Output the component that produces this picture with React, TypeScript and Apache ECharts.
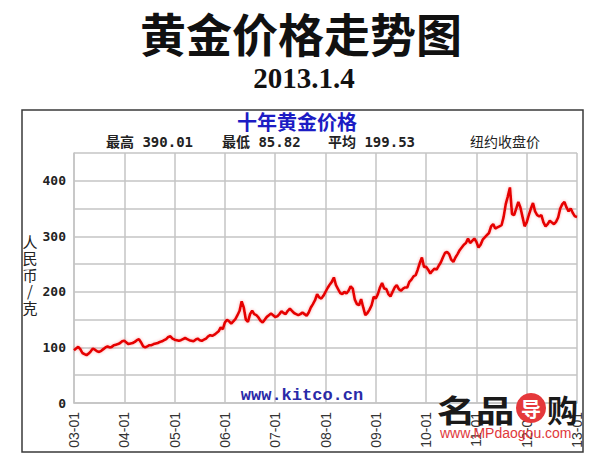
import React, { useEffect, useRef } from "react";
import * as echarts from "echarts";

// Tick labels on the time axis (year-month)
const tickLabels = ["03-01", "04-01", "05-01", "06-01", "07-01", "08-01", "09-01", "10-01", "11-01", "12-01", "13-01"];

// Semi-monthly gold prices, RMB per gram
const prices2003 = [95, 98, 101, 97, 90, 88, 86, 89, 93, 98, 96, 93, 92, 94, 97, 100, 102, 100, 101, 104, 105, 106, 108, 111];
const prices2004 = [112, 109, 106, 107, 108, 110, 113, 115, 109, 102, 100, 102, 104, 104, 106, 107, 108, 110, 111, 113, 115, 119, 120, 116];
const prices2005 = [114, 113, 112, 113, 115, 117, 115, 113, 112, 111, 114, 116, 113, 112, 114, 116, 120, 122, 121, 123, 126, 129, 136, 133];
const prices2006 = [145, 150, 147, 143, 147, 151, 158, 166, 183, 172, 150, 146, 160, 166, 160, 158, 154, 148, 145, 150, 155, 158, 161, 158];
const prices2007 = [155, 156, 160, 165, 162, 160, 166, 170, 166, 162, 160, 158, 160, 163, 160, 157, 163, 172, 178, 185, 196, 190, 188, 193];
const prices2008 = [200, 207, 213, 218, 226, 212, 205, 198, 196, 200, 197, 202, 210, 206, 186, 178, 176, 187, 172, 158, 162, 168, 176, 191];
const prices2009 = [188, 196, 208, 216, 206, 205, 196, 192, 200, 208, 212, 205, 202, 206, 208, 208, 218, 222, 228, 230, 240, 252, 262, 245];
const prices2010 = [245, 240, 233, 238, 242, 240, 247, 253, 262, 270, 272, 268, 258, 254, 262, 268, 275, 280, 285, 288, 296, 288, 292, 296];
const prices2011 = [290, 280, 285, 294, 298, 302, 306, 318, 322, 314, 316, 318, 320, 335, 358, 372, 388, 340, 338, 350, 362, 352, 335, 318];
const prices2012 = [325, 338, 350, 360, 345, 338, 336, 338, 325, 318, 322, 328, 325, 322, 326, 334, 350, 358, 362, 352, 345, 350, 342, 336];
const prices2013 = [335];

const yearlyPrices = [prices2003, prices2004, prices2005, prices2006, prices2007, prices2008, prices2009, prices2010, prices2011, prices2012];

// Stats shown in the header
const statHigh = "390.01";
const statLow = "85.82";
const statAvg = "199.53";

// Vertical y-axis name characters
const yNameChars = ["人", "民", "币", "/", "克"];

export default function App() {
  const ref = useRef<HTMLDivElement>(null);

  useEffect(() => {
    if (!ref.current) return;
    const chart = echarts.init(ref.current, null, { renderer: "svg" });

    const categories: string[] = [];
    const values: number[] = [];
    yearlyPrices.forEach((arr, yi) => {
      arr.forEach((v, hi) => {
        const month = Math.floor(hi / 2) + 1;
        categories.push(`${tickLabels[yi].slice(0, 2)}-${String(month).padStart(2, "0")}-${hi % 2 === 0 ? "01" : "15"}`);
        values.push(v);
      });
    });
    categories.push("13-01-04");
    values.push(...prices2013);

    const gridColor = "#c4c4c4";

    const yNameTexts = yNameChars.map((ch, i) => ({
      type: "text",
      x: 30,
      y: 241 + i * 16.6,
      style: {
        text: ch,
        font: "15px 'Noto Sans CJK SC'",
        lineHeight: 15,
        fill: "#222",
        align: "center",
        verticalAlign: "middle",
      },
    }));

    chart.setOption({
      animation: false,
      backgroundColor: "#ffffff",
      grid: { left: 74, right: 23, top: 153, bottom: 59, containLabel: false },
      xAxis: {
        type: "category",
        boundaryGap: false,
        data: categories,
        axisLine: { lineStyle: { color: gridColor, width: 1.5 } },
        axisTick: { show: false },
        axisLabel: {
          interval: 23,
          rotate: 90,
          margin: 9,
          fontSize: 14,
          fontFamily: "Liberation Sans",
          color: "#333",
          formatter: (_v: string, i: number) => tickLabels[Math.round(i / 24)] ?? "",
        },
        splitLine: { show: true, interval: 23, lineStyle: { color: gridColor, width: 1.5 } },
      },
      yAxis: {
        type: "value",
        min: 0,
        max: 450,
        interval: 50,
        axisLine: { show: true, lineStyle: { color: gridColor, width: 1.5 } },
        axisTick: { show: false },
        axisLabel: {
          margin: 8,
          fontSize: 13,
          fontWeight: "bold",
          fontFamily: "DejaVu Sans Mono",
          color: "#222",
          formatter: (v: number) => (v % 100 === 0 ? String(v) : ""),
        },
        splitLine: { show: true, lineStyle: { color: gridColor, width: 1.5 } },
      },
      series: [
        {
          type: "line",
          data: values,
          symbol: "none",
          smooth: false,
          lineStyle: {
            color: "#e60000",
            width: 2.6,
            shadowColor: "rgba(255,60,60,0.45)",
            shadowBlur: 3,
          },
        },
      ],
      graphic: [
        {
          type: "rect",
          shape: { x: 22, y: 110, width: 561, height: 342 },
          style: { fill: "none", stroke: "#3a3a3a", lineWidth: 1.5 },
          z: 10,
        },
        {
          type: "text",
          x: 301,
          y: 32,
          style: {
            text: "黄金价格走势图",
            font: "bold 46px 'Noto Sans CJK SC'",
            fill: "#111",
            align: "center",
            verticalAlign: "middle",
          },
        },
        {
          type: "text",
          x: 304,
          y: 78,
          style: {
            text: "2013.1.4",
            font: "bold 29px 'Liberation Serif'",
            fill: "#111",
            align: "center",
            verticalAlign: "middle",
          },
        },
        {
          type: "text",
          x: 297,
          y: 121,
          style: {
            text: "十年黄金价格",
            font: "bold 20px 'Noto Sans CJK SC'",
            fill: "#1c1cc4",
            align: "center",
            verticalAlign: "middle",
          },
        },
        {
          type: "text",
          x: 106,
          y: 142,
          style: {
            text: "最高 " + statHigh,
            font: "bold 14px 'DejaVu Sans Mono', 'Noto Sans CJK SC'",
            fill: "#222",
            align: "left",
            verticalAlign: "middle",
          },
        },
        {
          type: "text",
          x: 222,
          y: 142,
          style: {
            text: "最低 " + statLow,
            font: "bold 14px 'DejaVu Sans Mono', 'Noto Sans CJK SC'",
            fill: "#222",
            align: "left",
            verticalAlign: "middle",
          },
        },
        {
          type: "text",
          x: 328,
          y: 142,
          style: {
            text: "平均 " + statAvg,
            font: "bold 14px 'DejaVu Sans Mono', 'Noto Sans CJK SC'",
            fill: "#222",
            align: "left",
            verticalAlign: "middle",
          },
        },
        {
          type: "text",
          x: 470,
          y: 141,
          style: {
            text: "纽约收盘价",
            font: "14px 'Noto Sans CJK SC'",
            fill: "#222",
            align: "left",
            verticalAlign: "middle",
          },
        },
        ...yNameTexts,
        {
          type: "text",
          x: 302,
          y: 395,
          style: {
            text: "www.kitco.cn",
            font: "bold 17px 'Liberation Mono'",
            fill: "#2a2aa8",
            align: "center",
            verticalAlign: "middle",
          },
          z: 20,
        },
        {
          type: "text",
          x: 437,
          y: 408,
          scaleX: 1.25,
          style: {
            text: "名品",
            font: "bold 31px 'Noto Sans CJK SC'",
            fill: "#1a1a1a",
            align: "left",
            verticalAlign: "middle",
          },
          z: 20,
        },
        {
          type: "circle",
          shape: { cx: 531, cy: 408, r: 15 },
          style: { fill: "#e5383b" },
          z: 20,
        },
        {
          type: "text",
          x: 531,
          y: 408,
          style: {
            text: "导",
            font: "bold 20px 'Noto Sans CJK SC'",
            fill: "#ffffff",
            align: "center",
            verticalAlign: "middle",
          },
          z: 21,
        },
        {
          type: "text",
          x: 547,
          y: 408,
          style: {
            text: "购",
            font: "bold 31px 'Noto Sans CJK SC'",
            fill: "#1a1a1a",
            align: "left",
            verticalAlign: "middle",
          },
          z: 20,
        },
        {
          type: "text",
          x: 440,
          y: 433,
          style: {
            text: "www.MPdaogou.com",
            font: "14px 'Liberation Sans'",
            fill: "#e0383b",
            align: "left",
            verticalAlign: "middle",
          },
          z: 20,
        },
      ],
    });

    return () => chart.dispose();
  }, []);

  return (
    <div
      ref={ref}
      style={{ position: "fixed", left: 0, top: 0, width: 600, height: 462, background: "#fff" }}
    />
  );
}
